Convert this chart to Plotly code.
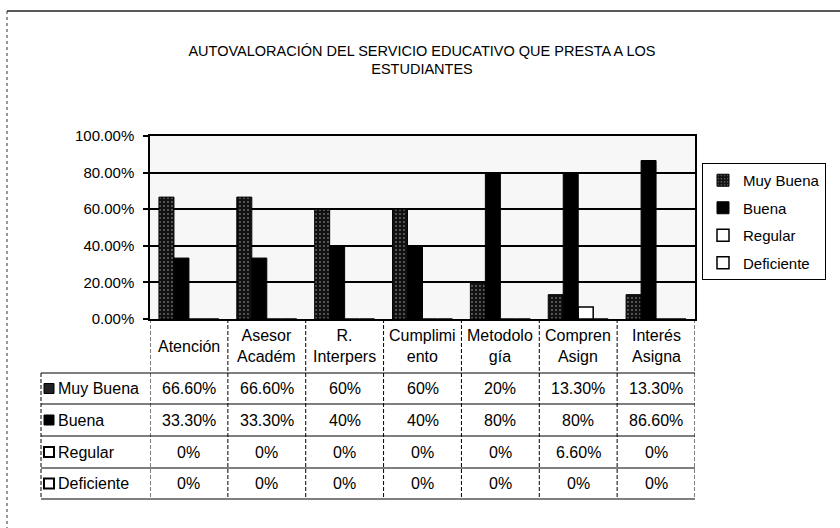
import plotly.graph_objects as go

# Categorías evaluadas y porcentajes por nivel de valoración
categorias = ["Atención", "Asesor<br>Académ", "R.<br>Interpers", "Cumplimi<br>ento",
              "Metodolo<br>gía", "Compren<br>Asign", "Interés<br>Asigna"]
muy_buena = [66.6, 66.6, 60, 60, 20, 13.3, 13.3]
buena = [33.3, 33.3, 40, 40, 80, 80, 86.6]
regular = [0, 0, 0, 0, 0, 6.6, 0]
deficiente = [0, 0, 0, 0, 0, 0, 0]
series_nombres = ["Muy Buena", "Buena", "Regular", "Deficiente"]
y_ticks = [0, 20, 40, 60, 80, 100]

FONT = "Liberation Sans, Arial, sans-serif"
W, H = 840, 528
# plot area in pixels
L, R, T, B = 150, 695, 136, 319


def px(p):
    return (p - L) / (R - L)


def py(p):
    return (B - p) / (B - T)


def fmt(v):
    return f"{int(v)}%" if float(v).is_integer() else f"{v:.2f}%"


series = [muy_buena, buena, regular, deficiente]
x_idx = list(range(len(categorias)))

fig = go.Figure()
fig.add_trace(go.Bar(
    name=series_nombres[0], x=x_idx, y=[v / 100 for v in muy_buena],
    marker=dict(color="#111111", line=dict(color="black", width=1),
                pattern=dict(shape=".", bgcolor="#111111", fgcolor="#c8c8c8",
                             size=4, solidity=0.18)),
    legendgroup="a"))
fig.add_trace(go.Bar(
    name=series_nombres[1], x=x_idx, y=[v / 100 for v in buena],
    marker=dict(color="black", line=dict(color="black", width=1)),
    legendgroup="b"))
fig.add_trace(go.Bar(
    name=series_nombres[2], x=x_idx, y=[v / 100 for v in regular],
    marker=dict(color="white", line=dict(color="black", width=1.5)),
    legendgroup="c"))
fig.add_trace(go.Bar(
    name=series_nombres[3], x=x_idx, y=[v / 100 for v in deficiente],
    marker=dict(color="white", line=dict(color="black", width=1.5)),
    legendgroup="d"))

shapes = []
annotations = []

# data table: header row + one row per series
header_top, header_bot = B, 373
row_edges = [373, 404, 436, 468, 499]
label_left = 41
TABLE_FONT = dict(family=FONT, size=16, color="black")
line_style = dict(color="black", width=1.2)
vline_style = dict(color="black", width=1, dash="4px,2px")

# vertical separators between categories (through header and rows)
for k in range(len(categorias) + 1):
    shapes.append(dict(type="line", xref="x", yref="paper",
                       x0=k - 0.5, x1=k - 0.5, y0=py(header_top), y1=py(row_edges[-1]),
                       line=vline_style, layer="above"))
# left edge of the series-label column
shapes.append(dict(type="line", xref="paper", yref="paper",
                   x0=px(label_left), x1=px(label_left),
                   y0=py(row_edges[0]), y1=py(row_edges[-1]), line=vline_style))
# horizontal row lines
for e in row_edges:
    shapes.append(dict(type="line", xref="paper", yref="paper",
                       x0=px(label_left), x1=1, y0=py(e), y1=py(e), line=line_style))

# category names in the header row
for i, c in enumerate(categorias):
    annotations.append(dict(x=i, y=py((header_top + header_bot) / 2), xref="x", yref="paper",
                            text=c, showarrow=False, xanchor="center", yanchor="middle",
                            font=TABLE_FONT))

# legend keys used in the label column
key_fill = ["#222222", "black", "white", "white"]
key_line = [1, 1, 2, 2]
for r, (nombre, vals) in enumerate(zip(series_nombres, series)):
    top, bot = row_edges[r], row_edges[r + 1]
    yc = (top + bot) / 2
    shapes.append(dict(type="rect", xref="paper", yref="paper",
                       x0=px(44), x1=px(54), y0=py(yc - 5), y1=py(yc + 5),
                       fillcolor=key_fill[r], line=dict(color="black", width=key_line[r])))
    annotations.append(dict(x=px(56), y=py(yc), xref="paper", yref="paper",
                            text=nombre, showarrow=False, xanchor="left", yanchor="middle",
                            font=TABLE_FONT))
    for i, v in enumerate(vals):
        annotations.append(dict(x=i, y=py(yc), xref="x", yref="paper",
                                text=fmt(v), showarrow=False, xanchor="center",
                                yanchor="middle", font=TABLE_FONT))

# outer frame of the chart object
shapes.append(dict(type="line", xref="paper", yref="paper",
                   x0=px(7), x1=px(845), y0=py(11), y1=py(11),
                   line=dict(color="#222222", width=1.5)))
shapes.append(dict(type="line", xref="paper", yref="paper",
                   x0=px(7), x1=px(7), y0=py(11), y1=py(540),
                   line=dict(color="#333333", width=1, dash="3px,3px")))

fig.update_layout(
    width=W, height=H,
    margin=dict(l=L, r=W - R, t=T, b=H - B),
    paper_bgcolor="white",
    plot_bgcolor="#f7f7f7",
    barmode="group", bargap=0.23, bargroupgap=0,
    font=dict(family=FONT, color="black"),
    title=dict(text="AUTOVALORACIÓN DEL SERVICIO EDUCATIVO QUE PRESTA A LOS<br>ESTUDIANTES",
               x=422 / W, xanchor="center", xref="container",
               y=1 - 55.5 / H, yanchor="middle", yref="container",
               font=dict(family=FONT, size=14.5, color="black")),
    xaxis=dict(range=[-0.5, len(categorias) - 0.5], showticklabels=False, ticks="",
               showgrid=False, zeroline=False, showline=True, linecolor="black",
               linewidth=1.5, mirror=True, fixedrange=True),
    yaxis=dict(range=[0, 1], tickvals=[t / 100 for t in y_ticks], tickformat=".2%",
               showgrid=True, gridcolor="black", gridwidth=1.5, zeroline=False,
               showline=True, linecolor="black", linewidth=1.5, mirror=True,
               ticks="outside", ticklen=5, tickcolor="black", tickwidth=1.5,
               ticklabelstandoff=6, tickfont=dict(family=FONT, size=15, color="black")),
    legend=dict(x=px(702), y=py(163), xanchor="left", yanchor="top",
                bordercolor="black", borderwidth=1, bgcolor="white",
                font=dict(family=FONT, size=15, color="black"),
                tracegroupgap=5, itemwidth=30, traceorder="grouped"),
    shapes=shapes,
    annotations=annotations,
    showlegend=True,
)

fig.write_html("out.html")
